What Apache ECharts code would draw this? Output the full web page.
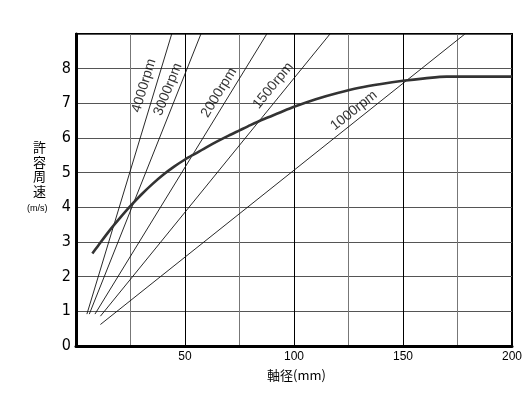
<!DOCTYPE html>
<html>
<head>
<meta charset="utf-8">
<script src="https://cdn.jsdelivr.net/npm/echarts@6/dist/echarts.min.js"></script>
<style>
html,body{margin:0;padding:0;background:#fff;}
#chart{width:530px;height:393px;}
</style>
</head>
<body>
<div id="chart"></div>
<script>
// ---- data ----
const rpmNames = ['4000rpm', '3000rpm', '2000rpm', '1500rpm', '1000rpm'];
const rpmStart = [[5.0, 0.92], [6.1, 0.92], [8.7, 0.92], [11.2, 0.86], [11.2, 0.62]];
const rpmEnd = [[43.9, 9], [57.3, 9], [87.5, 9], [116.5, 9], [178.4, 9]];
const rpmLabelAt = [[31.2, 7.51], [42.2, 7.40], [65.6, 7.31], [90.4, 7.51], [127.5, 6.79]];
const curveD = [7.5, 10, 15, 20, 25, 30, 35, 40, 45, 50, 55, 60, 65, 70, 75, 80, 86, 93, 100, 110, 120, 130, 140, 150, 160, 170, 200];
const curveV = [2.67, 2.88, 3.3, 3.68, 4.04, 4.37, 4.67, 4.94, 5.175, 5.38, 5.56, 5.74, 5.91, 6.07, 6.22, 6.37, 6.54, 6.72, 6.9, 7.12, 7.3, 7.45, 7.56, 7.65, 7.72, 7.77, 7.77];
const xTickLabels = [50, 100, 150, 200];
const yTickLabels = [0, 1, 2, 3, 4, 5, 6, 7, 8];
const xName = '軸径(mm)';
const yNameChars = ['許', '容', '周', '速'];
const yUnit = '(m/s)';

const chart = echarts.init(document.getElementById('chart'));
const numFont = "'Liberation Sans', Arial, sans-serif";
const narrowFont = "'Liberation Sans Narrow', 'DejaVu Sans Condensed', 'Liberation Sans', sans-serif";
const cjkFont = "'Noto Sans CJK JP', sans-serif";

function buildSeries(angles) {
  const s = [];
  rpmNames.forEach((n, i) => {
    s.push({
      type: 'line', name: n, data: [rpmStart[i], rpmEnd[i]],
      showSymbol: false, silent: true,
      lineStyle: { color: '#111', width: 0.9 }, z: 3
    });
  });
  s.push({
    type: 'line', name: 'curve',
    data: curveD.map((d, i) => [d, curveV[i]]),
    smooth: 0.3, showSymbol: false, silent: true,
    lineStyle: { color: '#333', width: 2.6 }, z: 4
  });
  s.push({
    type: 'scatter', name: 'labels', symbolSize: 0, silent: true, z: 5,
    data: rpmNames.map((n, i) => ({
      name: n, value: rpmLabelAt[i],
      label: { rotate: angles ? angles[i] : 0 }
    })),
    label: {
      show: true, position: 'inside', formatter: '{b}',
      color: '#000', fontSize: 14, fontFamily: numFont
    }
  });
  return s;
}

const option = {
  animation: false,
  backgroundColor: '#fff',
  grid: { left: 76, right: 18, top: 34, bottom: 47, show: true, borderColor: '#000', borderWidth: 2, containLabel: false },
  xAxis: {
    type: 'value', min: 0, max: 200, interval: 25,
    axisLine: { show: true, onZero: false, lineStyle: { color: '#000', width: 3 } },
    axisTick: { show: false },
    axisLabel: {
      color: '#000', fontSize: 12, fontFamily: numFont, margin: 5,
      formatter: v => xTickLabels.indexOf(v) >= 0 ? String(v) : ''
    },
    splitLine: { show: true, lineStyle: { color: ['#000', '#777'], width: 1 } }
  },
  yAxis: {
    type: 'value', min: 0, max: 9, interval: 1,
    axisLine: { show: true, onZero: false, lineStyle: { color: '#000', width: 3 } },
    axisTick: { show: false },
    axisLabel: {
      color: '#000', fontSize: 16, fontFamily: narrowFont, margin: 5,
      formatter: v => yTickLabels.indexOf(v) >= 0 ? String(v) : ''
    },
    splitLine: { show: true, lineStyle: { color: '#555', width: 1 } }
  },
  graphic: [
    { type: 'text', left: 267, top: 369, silent: true,
      style: { text: xName, fill: '#000', font: "13px " + cjkFont } },
    { type: 'text', left: 33, top: 140, silent: true,
      style: { text: yNameChars.join('\n'), fill: '#000', font: "13px " + cjkFont, lineHeight: 14.5 } },
    { type: 'text', left: 27, top: 204, silent: true,
      style: { text: yUnit, fill: '#000', font: "9px " + numFont } }
  ],
  series: buildSeries(null)
};
chart.setOption(option);

// rotate labels to follow each rpm line's on-screen slope
const angles = rpmNames.map((n, i) => {
  const a = chart.convertToPixel({ gridIndex: 0 }, rpmStart[i]);
  const b = chart.convertToPixel({ gridIndex: 0 }, rpmEnd[i]);
  return Math.atan2(a[1] - b[1], b[0] - a[0]) * 180 / Math.PI;
});
chart.setOption({ series: buildSeries(angles) });
</script>
</body>
</html>
